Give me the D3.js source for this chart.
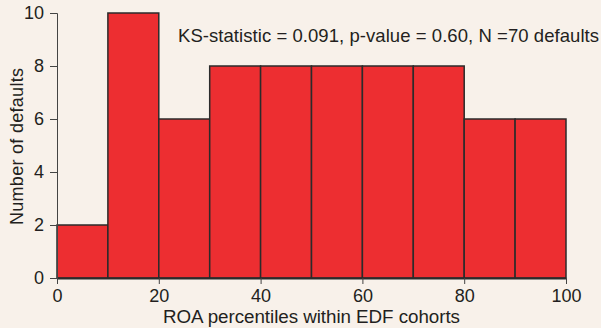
<!DOCTYPE html>
<html>
<head>
<meta charset="utf-8">
<script src="https://cdn.jsdelivr.net/npm/d3@7"></script>
<style>
  html, body { margin: 0; padding: 0; background: #f8f1ea; }
  svg { display: block; }
  text { font-family: "Liberation Sans", Arial, sans-serif; fill: #231f20; }
</style>
</head>
<body>
<div id="chart"></div>
<script>
// histogram bins (ROA percentile) and counts of defaults
const binStarts = [0, 10, 20, 30, 40, 50, 60, 70, 80, 90];
const binWidth = 10;
const counts = [2, 10, 6, 8, 8, 8, 8, 8, 6, 6];
const xTicks = [0, 20, 40, 60, 80, 100];
const yTicks = [0, 2, 4, 6, 8, 10];
const note = 'KS-statistic = 0.091, p-value = 0.60, N =70 defaults';

const width = 601, height = 328;

const svg = d3.select('#chart')
  .append('svg')
  .attr('width', width)
  .attr('height', height);

svg.append('rect')
  .attr('width', width)
  .attr('height', height)
  .attr('fill', '#f8f1ea');

const x = d3.scaleLinear().domain([0, 100]).range([57, 566]);
const y = d3.scaleLinear().domain([0, 10]).range([278, 13]);

// bars
svg.append('g')
  .selectAll('rect')
  .data(binStarts)
  .join('rect')
  .attr('x', (d) => x(d))
  .attr('y', (d, i) => y(counts[i]))
  .attr('width', (d) => x(d + binWidth) - x(d))
  .attr('height', (d, i) => y(0) - y(counts[i]))
  .attr('fill', '#ed2e31')
  .attr('stroke', '#2b2b2b')
  .attr('stroke-width', 1.5);

// x axis
const xAxis = svg.append('g')
  .attr('transform', `translate(0,${y(0)})`)
  .call(d3.axisBottom(x).tickValues(xTicks).tickSize(6).tickSizeOuter(0).tickPadding(5));
xAxis.select('.domain').attr('stroke', '#2b2b2b').attr('stroke-width', 2);
xAxis.selectAll('.tick line').attr('stroke', '#444');
xAxis.selectAll('text').attr('font-size', 18).attr('fill', '#231f20');

// y axis
const yAxis = svg.append('g')
  .attr('transform', `translate(${x(0)},0)`)
  .call(d3.axisLeft(y).tickValues(yTicks).tickSize(7).tickSizeOuter(7).tickPadding(6));
yAxis.select('.domain').attr('stroke', '#444');
yAxis.selectAll('.tick line').attr('stroke', '#444');
yAxis.selectAll('text').attr('font-size', 18).attr('fill', '#231f20');

// axis titles
svg.append('text')
  .attr('x', 163)
  .attr('y', 323)
  .attr('font-size', 18.8)
  .attr('textLength', 297)
  .text('ROA percentiles within EDF cohorts');

svg.append('text')
  .attr('transform', 'translate(23,146.5) rotate(-90)')
  .attr('text-anchor', 'middle')
  .attr('font-size', 18)
  .attr('textLength', 157)
  .text('Number of defaults');

// annotation
svg.append('text')
  .attr('x', 178)
  .attr('y', 41.5)
  .attr('font-size', 18.5)
  .attr('textLength', 421)
  .text(note);
</script>
</body>
</html>
